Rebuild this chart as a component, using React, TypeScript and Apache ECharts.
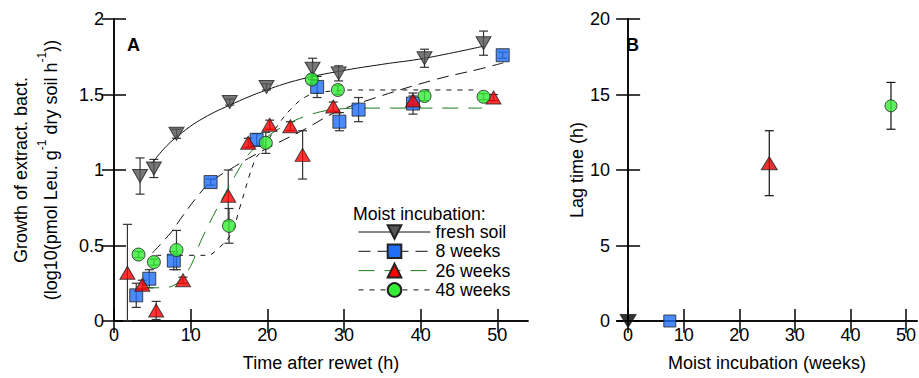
import React, { useEffect, useRef } from 'react';
import * as echarts from 'echarts';

const FONT = '"Liberation Sans", Arial, Helvetica, sans-serif';

// Tick values
const timeTicks = [0, 10, 20, 30, 40, 50];
const weekTicks = [0, 10, 20, 30, 40, 50];

// Panel A – fresh soil
const freshX = [3.4, 5.2, 8.15, 15.1, 19.9, 25.9, 29.3, 40.5, 48.2];
const freshY = [0.96, 1.01, 1.24, 1.45, 1.55, 1.67, 1.64, 1.74, 1.84];
const freshErr = [0.12, 0.06, 0.03, 0.02, 0.02, 0.07, 0.05, 0.06, 0.08];
const freshFitX = [4.9, 6.5, 8.2, 11.2, 15.1, 19.9, 24.3, 29.5, 35, 40.5, 48.2];
const freshFitY = [1.04, 1.14, 1.22, 1.33, 1.43, 1.53, 1.6, 1.655, 1.7, 1.74, 1.82];

// Panel A – 8 weeks
const w8X = [2.9, 4.6, 7.8, 12.6, 18.6, 26.5, 29.4, 31.9, 39.0, 50.7];
const w8Y = [0.17, 0.28, 0.4, 0.92, 1.2, 1.55, 1.32, 1.4, 1.44, 1.76];
const w8Err = [0.08, 0.06, 0.06, 0.02, 0.04, 0.07, 0.06, 0.08, 0.07, 0.02];
const w8FitX = [5.0, 7.5, 8.6, 10.8, 12.6, 15, 18, 21, 25.1, 28.6, 33, 41.7, 47.8, 50.8];
const w8FitY = [0.45, 0.59, 0.67, 0.82, 0.92, 1.0, 1.09, 1.17, 1.276, 1.375, 1.46, 1.596, 1.67, 1.71];

// Panel A – 26 weeks
const w26X = [1.75, 3.7, 5.5, 9.0, 14.9, 17.5, 20.3, 23.0, 24.6, 28.6, 39.0, 49.5];
const w26Y = [0.32, 0.24, 0.07, 0.27, 0.83, 1.18, 1.3, 1.29, 1.1, 1.42, 1.46, 1.48];
const w26Err = [0.32, 0.03, 0.06, 0.02, 0.17, 0.03, 0.03, 0.03, 0.16, 0.03, 0.03, 0.02];
const w26FitX = [3.8, 6.5, 9.2, 11.6, 13.8, 16, 17.5, 20, 22.5, 25.2, 28.6, 33, 48];
const w26FitY = [0.22, 0.22, 0.3, 0.56, 0.78, 0.98, 1.1, 1.22, 1.3, 1.36, 1.4, 1.41, 1.41];

// Panel A – 48 weeks
const w48X = [3.2, 5.2, 8.15, 15.0, 19.8, 25.8, 29.2, 40.5, 48.2];
const w48Y = [0.44, 0.39, 0.47, 0.63, 1.18, 1.6, 1.53, 1.49, 1.485];
const w48Err = [0.02, 0.02, 0.13, 0.115, 0.07, 0.03, 0.03, 0.03, 0.02];
const w48FitX = [5.5, 12.1, 13.6, 15.3, 16.4, 18.4, 19.3, 21, 23, 25, 27, 31.7, 47.4];
const w48FitY = [0.435, 0.435, 0.48, 0.58, 0.75, 1.07, 1.13, 1.27, 1.4, 1.485, 1.515, 1.53, 1.53];

// Panel B – lag times
const lagWeeks = [0, 7.5, 25.4, 47.3];
const lagHours = [0, 0, 10.45, 14.25];
const lagErr = [0, 0, 2.15, 1.55];

const pairs = (xs: number[], ys: number[]) => xs.map((x, i) => [x, ys[i]]);
const errData = (xs: number[], ys: number[], es: number[]) =>
  xs.map((x, i) => [x, ys[i] - es[i], ys[i] + es[i]]);

const errSeries = (xi: number, yi: number, data: number[][], cap: number, color: string) => ({
  type: 'custom',
  xAxisIndex: xi,
  yAxisIndex: yi,
  silent: true,
  z: 2,
  encode: { x: 0, y: [1, 2] },
  data,
  renderItem: (_p: any, api: any) => {
    const x = api.value(0);
    const lo = api.coord([x, api.value(1)]);
    const hi = api.coord([x, api.value(2)]);
    const style = { stroke: color, lineWidth: 1.2 };
    return {
      type: 'group',
      children: [
        { type: 'line', shape: { x1: lo[0], y1: lo[1], x2: hi[0], y2: hi[1] }, style },
        { type: 'line', shape: { x1: lo[0] - cap, y1: lo[1], x2: lo[0] + cap, y2: lo[1] }, style },
        { type: 'line', shape: { x1: hi[0] - cap, y1: hi[1], x2: hi[0] + cap, y2: hi[1] }, style },
      ],
    };
  },
});

const axisLine = { lineStyle: { color: '#000', width: 1.5 } };
const tickStyle = { inside: true, length: 12, lineStyle: { color: '#000', width: 1.5 } };
const labelStyle = { color: '#000', fontSize: 18, fontFamily: FONT };

export default function App() {
  const ref = useRef<HTMLDivElement>(null);
  useEffect(() => {
    if (!ref.current) return;
    const chart = echarts.init(ref.current, undefined, { renderer: 'svg' });

    const mk = (color: string) => ({ color, borderColor: '#222', borderWidth: 1 });

    const option: any = {
      animation: false,
      backgroundColor: '#fff',
      textStyle: { fontFamily: FONT },
      grid: [
        { left: 114, top: 19, width: 414, height: 302 },
        { left: 617, top: 19, width: 301, height: 302 },
      ],
      xAxis: [
        {
          gridIndex: 0, type: 'value', min: 0, max: 54, position: 'bottom',
          axisLine, splitLine: { show: false },
          axisTick: { ...tickStyle, customValues: timeTicks },
          axisLabel: { ...labelStyle, margin: 5, customValues: timeTicks },
          name: 'Time after rewet (h)', nameLocation: 'middle', nameGap: 33,
          nameTextStyle: { fontSize: 18, color: '#000', fontFamily: FONT },
        },
        {
          gridIndex: 0, type: 'value', min: 0, max: 54, position: 'top',
          axisLine, splitLine: { show: false },
          axisTick: { ...tickStyle, customValues: timeTicks },
          axisLabel: { show: false },
        },
        {
          gridIndex: 1, type: 'value', min: -2, max: 52, position: 'bottom',
          axisLine, splitLine: { show: false },
          axisTick: { ...tickStyle, customValues: weekTicks },
          axisLabel: { ...labelStyle, margin: 5, customValues: weekTicks },
          name: 'Moist incubation (weeks)', nameLocation: 'middle', nameGap: 33,
          nameTextStyle: { fontSize: 18, color: '#000', fontFamily: FONT },
        },
        {
          gridIndex: 1, type: 'value', min: -2, max: 52, position: 'top',
          axisLine, splitLine: { show: false },
          axisTick: { ...tickStyle, customValues: weekTicks },
          axisLabel: { show: false },
        },
      ],
      yAxis: [
        {
          gridIndex: 0, type: 'value', min: 0, max: 2, interval: 0.5, position: 'left',
          axisLine, axisTick: tickStyle, splitLine: { show: false },
          axisLabel: { ...labelStyle, margin: 10, padding: [0, 0, 8, 0] },
          name: '{t|Growth of extract. bact.}\n{t|(log10(pmol Leu. g}{s|-1}{t| dry soil h}{s|-1}{t|))}',
          nameLocation: 'middle', nameGap: 48,
          nameTextStyle: {
            color: '#000',
            rich: {
              t: { fontSize: 18, lineHeight: 30, fontFamily: FONT, color: '#000' },
              s: { fontSize: 12, lineHeight: 20, verticalAlign: 'top', fontFamily: FONT, color: '#000' },
            },
          },
        },
        {
          gridIndex: 0, type: 'value', min: 0, max: 2, interval: 0.5, position: 'right',
          axisLine, axisTick: tickStyle, splitLine: { show: false },
          axisLabel: { show: false },
        },
        {
          gridIndex: 1, type: 'value', min: 0, max: 20, interval: 5, position: 'left',
          axisLine, axisTick: tickStyle, splitLine: { show: false },
          axisLabel: { ...labelStyle, margin: 7, padding: [0, 0, 8, 0] },
          name: 'Lag time (h)', nameLocation: 'middle', nameGap: 30,
          nameTextStyle: { fontSize: 18, color: '#000', fontFamily: FONT },
        },
        {
          gridIndex: 1, type: 'value', min: 0, max: 20, interval: 5, position: 'right',
          axisLine, axisTick: tickStyle, splitLine: { show: false },
          axisLabel: { show: false },
        },
      ],
      legend: {
        orient: 'vertical',
        left: 353,
        top: 218,
        itemWidth: 72,
        itemHeight: 17,
        itemGap: 1.3,
        selectedMode: false,
        lineStyle: { width: 1 },
        data: ['fresh soil', '8 weeks', '26 weeks', '48 weeks'],
        textStyle: { fontSize: 17.7, lineHeight: 18, color: '#000', fontFamily: FONT },
      },
      graphic: [
        { type: 'text', x: 127, y: 45, style: { text: 'A', font: `bold 18px ${FONT}`, fill: '#000', verticalAlign: 'middle' } },
        { type: 'text', x: 626, y: 45, style: { text: 'B', font: `bold 18px ${FONT}`, fill: '#000', verticalAlign: 'middle' } },
        { type: 'text', x: 353, y: 214, style: { text: 'Moist incubation:', font: `17.7px ${FONT}`, fill: '#000', verticalAlign: 'middle' } },
      ],
      series: [
        // error bars
        errSeries(0, 0, errData(freshX, freshY, freshErr), 4.5, '#333'),
        errSeries(0, 0, errData(w8X, w8Y, w8Err), 4.5, '#333'),
        errSeries(0, 0, errData(w26X, w26Y, w26Err), 4.5, '#333'),
        errSeries(0, 0, errData(w48X, w48Y, w48Err), 4.5, '#333'),
        errSeries(2, 2, errData(lagWeeks, lagHours, lagErr), 4.5, '#111'),
        // fitted curves (also used for the legend)
        {
          name: 'fresh soil', type: 'line', xAxisIndex: 0, yAxisIndex: 0, z: 3,
          data: pairs(freshFitX, freshFitY), smooth: 0.4, showSymbol: false,
          symbol: 'triangle', symbolRotate: 180, symbolSize: [15, 13],
          itemStyle: mk('#555555'), lineStyle: { color: '#111', width: 1, type: 'solid' },
        },
        {
          name: '8 weeks', type: 'line', xAxisIndex: 0, yAxisIndex: 0, z: 3,
          data: pairs(w8FitX, w8FitY), smooth: 0.4, showSymbol: false,
          symbol: 'rect', symbolSize: 13,
          itemStyle: mk('#1f6ef5'), lineStyle: { color: '#111', width: 1, type: [12, 7] },
        },
        {
          name: '26 weeks', type: 'line', xAxisIndex: 0, yAxisIndex: 0, z: 3,
          data: pairs(w26FitX, w26FitY), smooth: 0.4, showSymbol: false,
          symbol: 'triangle', symbolSize: [15, 13],
          itemStyle: mk('#ff0000'), lineStyle: { color: '#1a7a1a', width: 1, type: [16, 10] },
        },
        {
          name: '48 weeks', type: 'line', xAxisIndex: 0, yAxisIndex: 0, z: 3,
          data: pairs(w48FitX, w48FitY), smooth: 0.4, showSymbol: false,
          symbol: 'circle', symbolSize: 13,
          itemStyle: mk('#33ee33'), lineStyle: { color: '#111', width: 1, type: [5, 6] },
        },
        // data points
        {
          name: 'fresh soil pts', type: 'scatter', xAxisIndex: 0, yAxisIndex: 0, z: 4, clip: false,
          data: pairs(freshX, freshY), symbol: 'triangle', symbolRotate: 180, symbolSize: [15, 13],
          itemStyle: mk('#555555'),
        },
        {
          name: '8 weeks pts', type: 'scatter', xAxisIndex: 0, yAxisIndex: 0, z: 4, clip: false,
          data: pairs(w8X, w8Y), symbol: 'rect', symbolSize: 13,
          itemStyle: mk('#1f6ef5'),
        },
        {
          name: '26 weeks pts', type: 'scatter', xAxisIndex: 0, yAxisIndex: 0, z: 4, clip: false,
          data: pairs(w26X, w26Y), symbol: 'triangle', symbolSize: [15, 13],
          itemStyle: mk('#ff0000'),
        },
        {
          name: '48 weeks pts', type: 'scatter', xAxisIndex: 0, yAxisIndex: 0, z: 4, clip: false,
          data: pairs(w48X, w48Y), symbol: 'circle', symbolSize: 13,
          itemStyle: mk('#33ee33'),
        },
        {
          name: 'lag', type: 'scatter', xAxisIndex: 2, yAxisIndex: 2, z: 4, clip: false,
          data: [
            { value: [lagWeeks[0], lagHours[0]], symbol: 'triangle', symbolRotate: 180, symbolSize: [16, 13], itemStyle: mk('#000000') },
            { value: [lagWeeks[1], lagHours[1]], symbol: 'rect', symbolSize: 12, itemStyle: mk('#1f6ef5') },
            { value: [lagWeeks[2], lagHours[2]], symbol: 'triangle', symbolSize: [16, 13], itemStyle: mk('#dd0000') },
            { value: [lagWeeks[3], lagHours[3]], symbol: 'circle', symbolSize: 12, itemStyle: mk('#33ee33') },
          ],
        },
      ],
    };
    chart.setOption(option);
    return () => chart.dispose();
  }, []);
  return <div ref={ref} style={{ position: 'fixed', left: 0, top: 0, width: 919, height: 378 }} />;
}
